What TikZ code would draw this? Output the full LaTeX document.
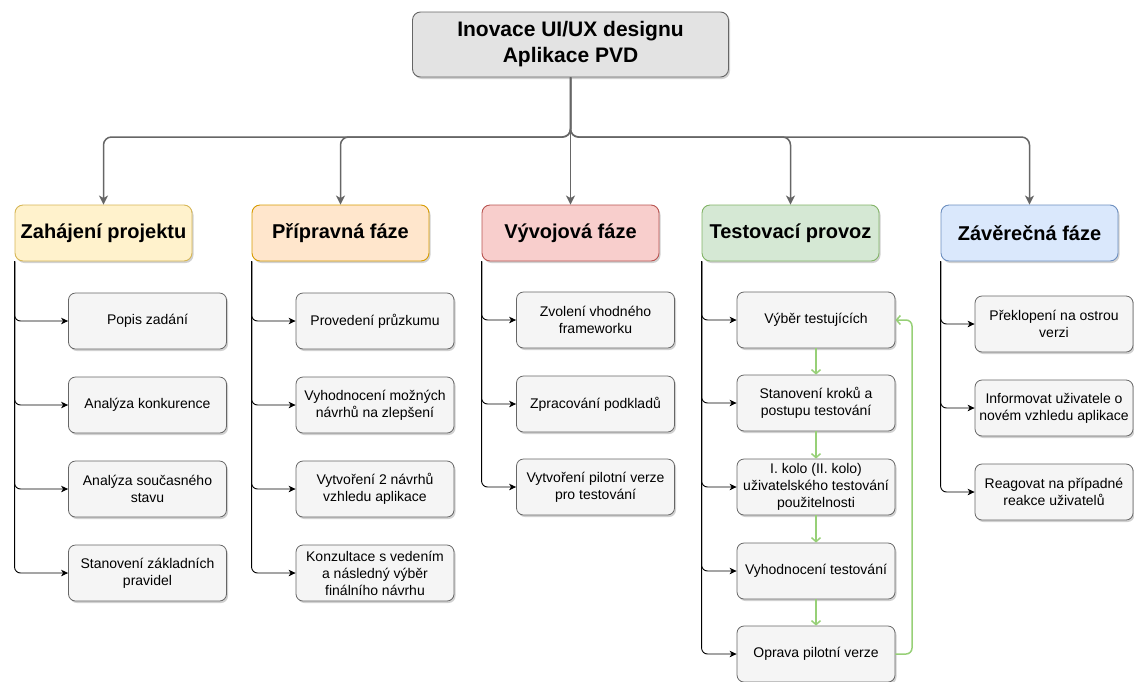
\documentclass[tikz,border=0pt]{standalone}
\usepackage{fontspec}
\setmainfont{Liberation Sans}
\usetikzlibrary{arrows.meta,shadows}

\definecolor{rootfill}{HTML}{E3E3E3}
\definecolor{boxfill}{HTML}{F5F5F5}
\definecolor{boxline}{HTML}{666666}
\definecolor{yelfill}{HTML}{FFF2CC}\definecolor{yelline}{HTML}{D6B656}
\definecolor{orafill}{HTML}{FFE6CC}\definecolor{oraline}{HTML}{D79B00}
\definecolor{redfill}{HTML}{F8CECC}\definecolor{redline}{HTML}{B85450}
\definecolor{grnfill}{HTML}{D5E8D4}\definecolor{grnline}{HTML}{82B366}
\definecolor{blufill}{HTML}{DAE8FC}\definecolor{bluline}{HTML}{6C8EBF}
\definecolor{loopgreen}{HTML}{97D077}

\begin{document}
\begin{tikzpicture}[x=1pt,y=-1pt,
  softshadow/.style={drop shadow={shadow xshift=1.5pt,shadow yshift=-2pt,opacity=0.3,fill=black!60}},
  rootbox/.style={draw=boxline,fill=rootfill,rounded corners=8pt,line width=0.9pt,
    minimum width=316pt,minimum height=65pt,align=center,softshadow,
    font=\fontsize{21}{26}\selectfont\bfseries},
  phase/.style={rounded corners=8pt,line width=0.9pt,minimum width=177pt,minimum height=56pt,
    align=center,softshadow,font=\fontsize{20}{24}\selectfont\bfseries},
  box/.style={draw=boxline,fill=boxfill,rounded corners=7pt,line width=0.8pt,
    minimum width=158pt,minimum height=56pt,align=center,inner sep=2pt,softshadow,
    font=\fontsize{14}{17}\selectfont},
  trunk/.style={draw=boxline,line width=1.5pt,rounded corners=8pt,
    -{Stealth[length=9pt,width=9pt,inset=2.5pt]}},
  feed/.style={draw=black,line width=0.9pt,rounded corners=6pt,
    -{Stealth[length=7pt,width=6.5pt,inset=2pt]}},
  flow/.style={draw=loopgreen,line width=1.5pt,rounded corners=6pt,
    -{Straight Barb[length=4pt,width=9pt]}}
]
\useasboundingbox (0,0) rectangle (1134,681);

% root
\node[rootbox] (root) at (570.5,44.5) {Inovace UI/UX designu\\Aplikace PVD};
\coordinate (bus) at (570.5,137);

% phases
\node[phase,draw=yelline,fill=yelfill] (p1) at (103.5,233) {Zahájení projektu};
\node[phase,draw=oraline,fill=orafill] (p2) at (340.5,233) {Přípravná fáze};
\node[phase,draw=redline,fill=redfill] (p3) at (570.5,233) {Vývojová fáze};
\node[phase,draw=grnline,fill=grnfill] (p4) at (790.5,233) {Testovací provoz};
\node[phase,draw=bluline,fill=blufill] (p5) at (1029.5,233) {Závěrečná fáze};

\draw[trunk] (root.south) -- (p3.north);
\foreach \p in {p1,p2,p4,p5}
  \draw[trunk] (root.south) -- (bus) -| (\p.north);

% Zahájení projektu
\node[box] (a1) at (147.5,321) {Popis zadání};
\node[box] (a2) at (147.5,405) {Analýza konkurence};
\node[box] (a3) at (147.5,489) {Analýza současného\\stavu};
\node[box] (a4) at (147.5,573) {Stanovení základních\\pravidel};

% Přípravná fáze
\node[box] (b1) at (375,321) {Provedení průzkumu};
\node[box] (b2) at (375,405) {Vyhodnocení možných\\návrhů na zlepšení};
\node[box] (b3) at (375,489) {Vytvoření 2 návrhů\\vzhledu aplikace};
\node[box] (b4) at (375,573) {Konzultace s vedením\\a následný výběr\\finálního návrhu};

% Vývojová fáze
\node[box] (c1) at (595.5,320) {Zvolení vhodného\\frameworku};
\node[box] (c2) at (595.5,404) {Zpracování podkladů};
\node[box] (c3) at (595.5,487) {Vytvoření pilotní verze\\pro testování};

% Testovací provoz
\node[box] (d1) at (816,320) {Výběr testujících};
\node[box] (d2) at (816,403) {Stanovení kroků a\\postupu testování};
\node[box] (d3) at (816,487) {I. kolo (II. kolo)\\uživatelského testování\\použitelnosti};
\node[box] (d4) at (816,571) {Vyhodnocení testování};
\node[box] (d5) at (816,654) {Oprava pilotní verze};

% Závěrečná fáze
\node[box] (e1) at (1054,324) {Překlopení na ostrou\\verzi};
\node[box] (e2) at (1054,408) {Informovat uživatele o\\novém vzhledu aplikace};
\node[box] (e3) at (1054,492) {Reagovat na případné\\reakce uživatelů};

% feeds from each phase
\foreach \c in {a1,a2,a3,a4} \draw[feed] (p1.south west) |- (\c.west);
\foreach \c in {b1,b2,b3,b4} \draw[feed] (p2.south west) |- (\c.west);
\foreach \c in {c1,c2,c3}    \draw[feed] (p3.south west) |- (\c.west);
\foreach \c in {d1,d2,d3,d4,d5} \draw[feed] (p4.south west) |- (\c.west);
\foreach \c in {e1,e2,e3}    \draw[feed] (p5.south west) |- (\c.west);

% testing cycle
\draw[flow] (d1) -- (d2);
\draw[flow] (d2) -- (d3);
\draw[flow] (d3) -- (d4);
\draw[flow] (d4) -- (d5);
\coordinate (back) at (912,654);
\draw[flow] (d5.east) -- (back) |- (d1.east);
\end{tikzpicture}
\end{document}
